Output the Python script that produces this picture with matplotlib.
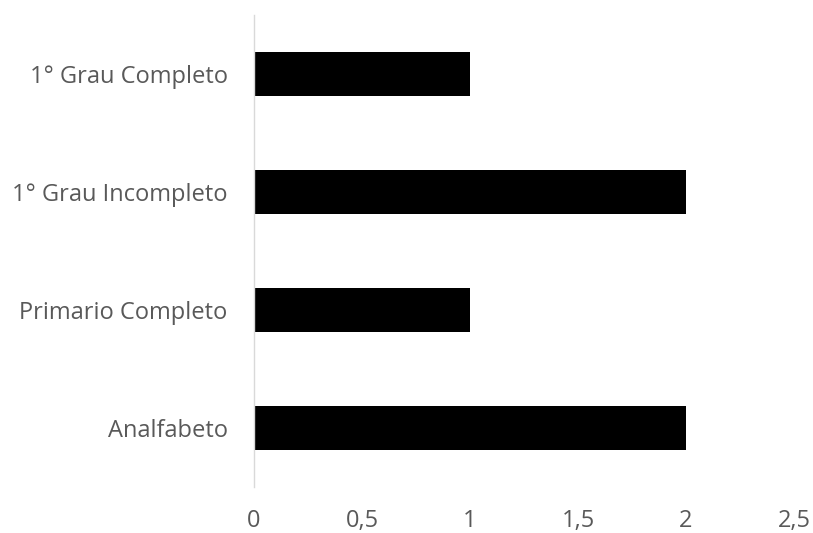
import matplotlib
matplotlib.use('Agg')
import matplotlib.pyplot as plt

categorias = ['Analfabeto', 'Primario Completo', '1° Grau Incompleto', '1° Grau Completo']
valores = [2, 1, 2, 1]
xticks = [0, 0.5, 1, 1.5, 2, 2.5]
xtick_labels = ['0', '0,5', '1', '1,5', '2', '2,5']

plt.rcParams['font.family'] = ['Open Sans', 'DejaVu Sans']
cinza = '#595959'

fig = plt.figure(figsize=(8.13, 5.33), dpi=100)
ax = fig.add_axes([254/813, 46/533, 540/813, 472/533])

ax.barh(range(len(categorias)), valores, height=0.365, color='black')

ax.set_xlim(0, 2.5)
ax.set_ylim(-0.5, len(categorias) - 0.5)
ax.set_xticks(xticks)
ax.set_xticklabels(xtick_labels)
ax.set_yticks(range(len(categorias)))
ax.set_yticklabels(categorias)

for s in ['top', 'right', 'bottom']:
	ax.spines[s].set_visible(False)
ax.spines['left'].set_color('#d9d9d9')
ax.spines['left'].set_linewidth(1)

ax.tick_params(axis='both', length=0, colors=cinza, labelsize=17)
ax.tick_params(axis='x', pad=16)
ax.tick_params(axis='y', pad=19)

fig.savefig('out.png', dpi=100)
